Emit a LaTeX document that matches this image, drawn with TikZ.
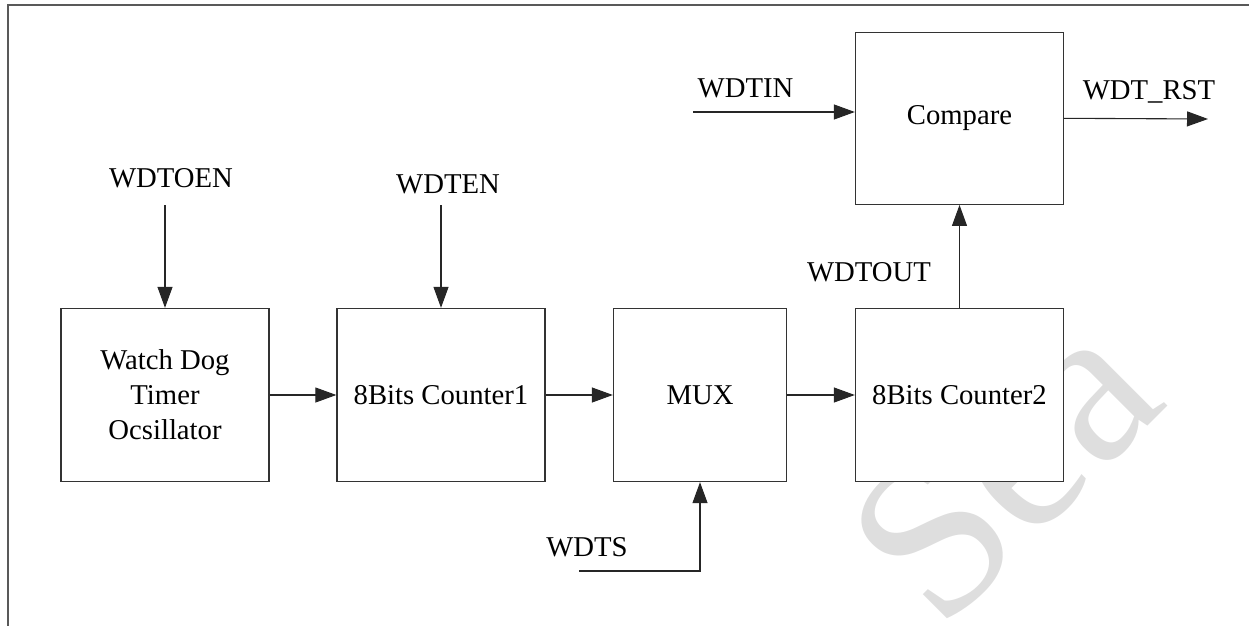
\documentclass[tikz,border=0pt]{standalone}
\usepackage{fontspec}
\setmainfont{Liberation Serif}
\usetikzlibrary{arrows.meta}
\begin{document}
\begin{tikzpicture}[x=1pt,y=-1pt,
  blk/.style={draw=black!80,line width=1.3pt,fill=white,inner sep=0pt,
    minimum width=208pt,minimum height=173pt,align=center,
    font=\fontsize{28.7}{35}\selectfont},
  sig/.style={inner sep=0pt,font=\fontsize{28.7}{35}\selectfont},
  arr/.style={line width=1.1pt,draw=black!85,-{Triangle[length=21pt,width=15pt]}},
  frame/.style={line width=2pt,draw=black!65}]
\useasboundingbox (0,0) rectangle (1249,626);
% page frame (top and left edges)
\draw[frame] (1249,5) -- (7.5,5) -- (7.5,626);
% faint watermark
\node[rotate=45,text=black!13,font=\fontsize{225}{225}\selectfont] (wm) at (1003,467) {Sea};
% blocks
\node[blk] (osc) at (165,395) {Watch Dog\\Timer\\Ocsillator};
\node[blk] (cnt1) at (441,395) {8Bits Counter1};
\node[blk,minimum width=173pt] (mux) at (700,395) {MUX};
\node[blk] (cnt2) at (959.5,395) {8Bits Counter2};
\node[blk,minimum height=172pt] (cmp) at (959.5,118.3) {Compare};
% signal labels
\node[sig] (lwdtoen) at (171,178) {WDTOEN};
\node[sig] (lwdten) at (448,184) {WDTEN};
\node[sig] (lwdts) at (587,547) {WDTS};
\node[sig] (lwdtout) at (869,272) {WDTOUT};
\node[sig] (lwdtin) at (745.5,88) {WDTIN};
\node[sig] (lrst) at (1149,92) {WDT\_RST};
% free ends of the input/output lines
\coordinate (oen) at (165,205);
\coordinate (en) at (441,205);
\coordinate (ts) at (579,571);
\coordinate (tin) at (693,112);
\coordinate (rst) at (1208,119);
% connections
\draw[arr] (oen) -- (osc.north);
\draw[arr] (en) -- (cnt1.north);
\draw[arr] (osc.east) -- (cnt1.west);
\draw[arr] (cnt1.east) -- (mux.west);
\draw[arr] (mux.east) -- (cnt2.west);
\draw[arr] (ts) -| (mux.south);
\draw[arr] (cnt2.north) -- (cmp.south);
\draw[arr] (tin) -- (tin -| cmp.west);
\draw[arr] (cmp.east) -- (rst);
\end{tikzpicture}
\end{document}
